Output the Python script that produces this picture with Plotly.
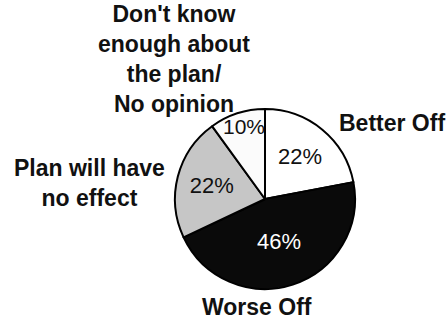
import plotly.graph_objects as go

categories = ["Better Off", "Worse Off", "Plan will have<br>no effect",
              "Don't know<br>enough about<br>the plan/<br>No opinion"]
values = [22, 46, 22, 10]
colors = ["#ffffff", "#0a0a0a", "#c6c6c6", "#fbfbfb"]
text_colors = ["#111111", "#ffffff", "#111111", "#111111"]

fig = go.Figure()
fig.add_trace(go.Pie(
    labels=categories,
    values=values,
    sort=False,
    direction="clockwise",
    rotation=0,
    marker=dict(colors=colors, line=dict(color="#000000", width=2)),
    texttemplate="%{value}%",
    textposition=["inside", "inside", "inside", "none"],
    insidetextorientation="horizontal",
    textfont=dict(family="Arial, Liberation Sans, sans-serif", size=22, color=text_colors),
    showlegend=False,
    hole=0,
    domain=dict(x=[(265 - 90) / 448, (265 + 90) / 448], y=[(120 - 90) / 319, (120 + 90) / 319]),
))

# the narrow slice's percentage is written at full size just inside its wedge
fig.add_annotation(text=f"{values[3]}%", x=244 / 448, y=1 - 126 / 319, xref="paper", yref="paper",
                   showarrow=False, xanchor="center", yanchor="middle",
                   font=dict(family="Arial, Liberation Sans, sans-serif", size=21, color="#111111"))

label_font = dict(family="Arial, Liberation Sans, sans-serif", size=23, color="#111111", weight="bold")
label_pos = [(392, 123), (257, 307), (89, 183), (174, 59)]
for cat, (x, y) in zip(categories, label_pos):
    fig.add_annotation(text=cat, x=x / 448, y=1 - y / 319, xref="paper", yref="paper",
                       showarrow=False, font=label_font, xanchor="center", yanchor="middle",
                       align="center")

fig.update_layout(width=448, height=319, margin=dict(l=0, r=0, t=0, b=0),
                  paper_bgcolor="#ffffff", plot_bgcolor="#ffffff")
fig.write_html("out.html", config={"displayModeBar": False},
               post_script="document.body.style.margin='0';document.body.style.overflow='hidden';")
